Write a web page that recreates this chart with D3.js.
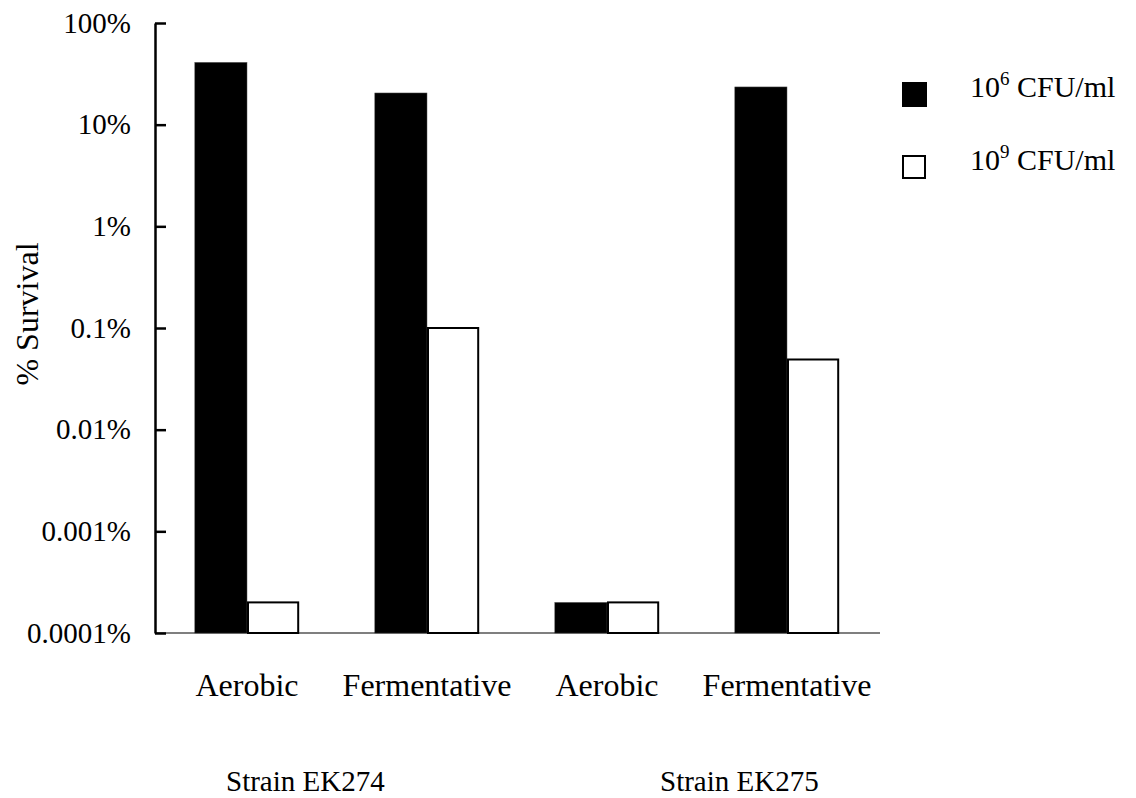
<!DOCTYPE html>
<html>
<head>
<meta charset="utf-8">
<script src="https://cdn.jsdelivr.net/npm/d3@7"></script>
<style>
  body { margin: 0; background: #fff; }
  svg text { font-family: 'Liberation Serif', 'Times New Roman', serif; }
</style>
</head>
<body>
<div id="chart"></div>
<script>
// data (percent survival)
const conditions = ["Aerobic", "Fermentative", "Aerobic", "Fermentative"];
const strains = ["Strain EK274", "Strain EK275"];
const series = ["10^6", "10^9"];
const low = [41, 20.5, 0.0002, 23.5];      // 10^6 CFU/ml
const high = [0.0002, 0.1, 0.0002, 0.049]; // 10^9 CFU/ml
const yTicks = [0.0001, 0.001, 0.01, 0.1, 1, 10, 100];
const yTickLabels = ["0.0001%", "0.001%", "0.01%", "0.1%", "1%", "10%", "100%"];

const width = 1136, height = 798;
const margin = {top: 23, left: 155, right: 256, bottom: 165};
const serif = "'Liberation Serif', 'Times New Roman', serif";

const svg = d3.select("#chart").append("svg")
    .attr("width", width)
    .attr("height", height);

const idx = d3.range(conditions.length);
const x0 = d3.scaleBand()
    .domain(idx)
    .range([157, 877])
    .paddingInner(0.42)
    .paddingOuter(0.21);
const x1 = d3.scaleBand()
    .domain(series)
    .range([0, x0.bandwidth()]);

const y = d3.scaleLog()
    .domain([0.0001, 100])
    .range([height - margin.bottom, margin.top]);

const colors = {"10^6": "#000", "10^9": "#fff"};

const groups = svg.append("g").selectAll("g")
    .data(idx)
    .join("g")
    .attr("transform", d => `translate(${x0(d)},0)`);

groups.selectAll("rect")
    .data(d => [{k: "10^6", v: low[d]}, {k: "10^9", v: high[d]}])
    .join("rect")
    .attr("x", d => x1(d.k) + (d.k === "10^9" ? 1 : 0))
    .attr("width", d => x1.bandwidth() - (d.k === "10^9" ? 2 : 0))
    .attr("y", d => y(d.v))
    .attr("height", d => y(0.0001) - y(d.v))
    .attr("fill", d => colors[d.k])
    .attr("stroke", d => d.k === "10^9" ? "#000" : "#555")
    .attr("stroke-width", d => d.k === "10^9" ? 2 : 0.5);

// x axis line
svg.append("line")
    .attr("x1", margin.left).attr("x2", 880)
    .attr("y1", y(0.0001)).attr("y2", y(0.0001))
    .attr("stroke", "#000").attr("stroke-width", 1.2);

// y axis
const yAxis = svg.append("g")
    .attr("transform", `translate(${margin.left},0)`)
    .call(d3.axisLeft(y)
        .tickValues(yTicks)
        .tickFormat((d, i) => yTickLabels[i])
        .tickSizeInner(-11)
        .tickSizeOuter(0)
        .tickPadding(24))
    .attr("font-family", serif)
    .attr("font-size", 29);
yAxis.select(".domain").attr("stroke-width", 2.5);
yAxis.selectAll(".tick line").attr("stroke-width", 2.5);
yAxis.selectAll("text")
    .attr("fill", "#000")
    .style("font-family", serif);

svg.append("text")
    .attr("transform", "translate(38,314) rotate(-90)")
    .attr("text-anchor", "middle")
    .attr("font-size", 32)
    .text("% Survival");

// category labels
svg.append("g").selectAll("text")
    .data(idx)
    .join("text")
    .attr("x", d => x0(d) + x0.bandwidth() / 2)
    .attr("y", 696)
    .attr("text-anchor", "middle")
    .attr("font-size", 32)
    .text(d => conditions[d]);

// strain labels
const strainX = [226, 660];
svg.append("g").selectAll("text")
    .data(strains)
    .join("text")
    .attr("x", (d, i) => strainX[i])
    .attr("y", 791)
    .attr("font-size", 29)
    .text(d => d);

// legend
const legend = svg.append("g").selectAll("g")
    .data(series)
    .join("g")
    .attr("transform", (d, i) => `translate(902,${82 + i * 73})`);
legend.append("rect")
    .attr("x", d => d === "10^9" ? 1 : 0)
    .attr("y", d => d === "10^9" ? 1 : 0)
    .attr("width", d => d === "10^9" ? 22 : 25)
    .attr("height", d => d === "10^9" ? 22 : 25)
    .attr("fill", d => colors[d])
    .attr("stroke", "#000")
    .attr("stroke-width", d => d === "10^9" ? 2 : 0);
const lt = legend.append("text")
    .attr("x", 68)
    .attr("y", 15)
    .attr("font-size", 30);
lt.append("tspan").text("10");
lt.append("tspan").attr("dy", -12).attr("font-size", 19).text(d => d.split("^")[1]);
lt.append("tspan").attr("dy", 12).text(" CFU/ml");
</script>
</body>
</html>
